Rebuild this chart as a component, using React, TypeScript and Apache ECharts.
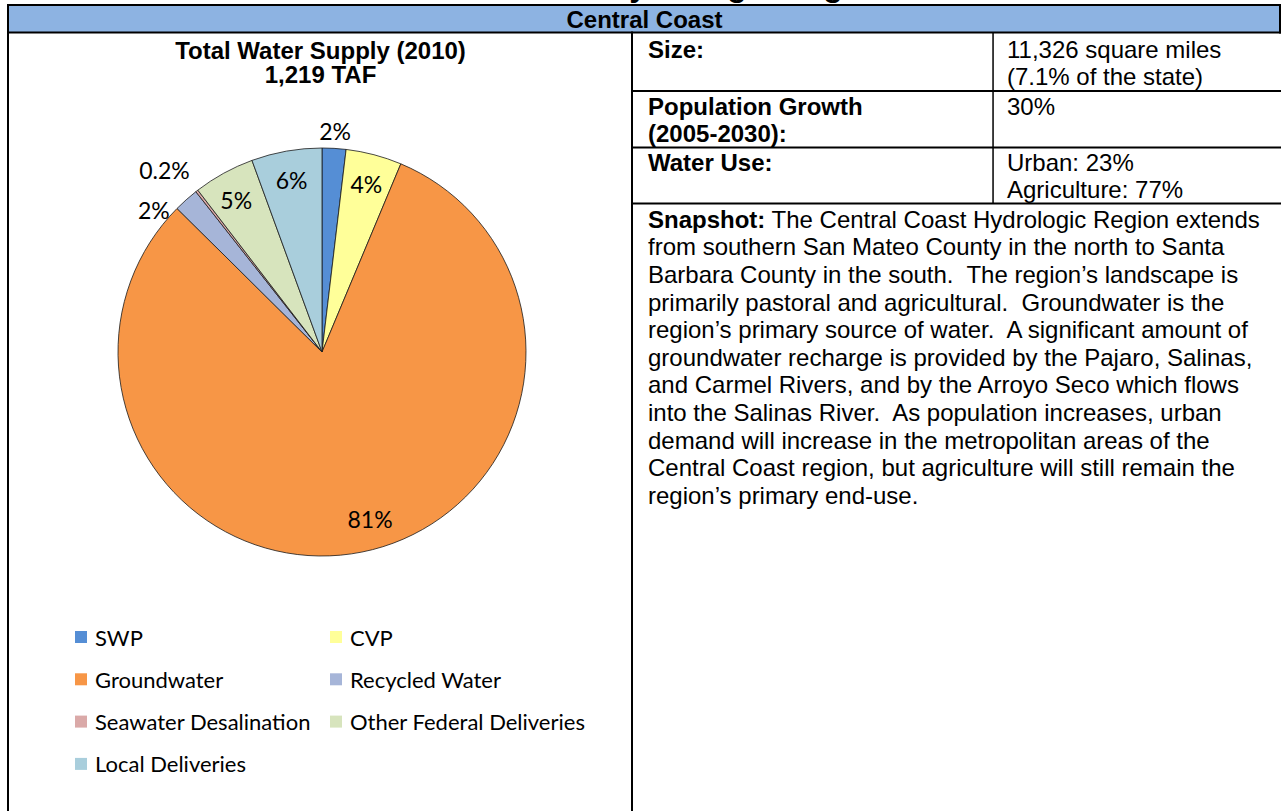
import React, { useEffect, useRef } from "react";
import * as echarts from "echarts";

const categories = [
  "SWP",
  "CVP",
  "Groundwater",
  "Recycled Water",
  "Seawater Desalination",
  "Other Federal Deliveries",
  "Local Deliveries",
];
const supplyTAF = [23, 54, 989, 24, 2.4, 59, 68];
const sliceColors = ["#558ED5", "#FFFF99", "#F79646", "#A6B5D8", "#DAA9A8", "#D7E4BD", "#A9CEDC"];
const labelOutside = [true, false, false, true, true, false, false];
const labelOffsets = [[0, 0], [0, 0], [14, -4], [-21, 23], [-22, -7], [-2, 0], [0, -1]];

const legendLeftColumn = ["SWP", "Groundwater", "Seawater Desalination", "Local Deliveries"];
const legendRightColumn = ["CVP", "Recycled Water", "Other Federal Deliveries"];

const pageTitle = "Central Coast Hydrologic Region";
const regionName = "Central Coast";
const chartTitle = ["Total Water Supply (2010)", "1,219 TAF"];
const tableLabels = ["Size:", "Population Growth\n(2005-2030):", "Water Use:"];
const tableValues = ["11,326 square miles\n(7.1% of the state)", "30%", "Urban: 23%\nAgriculture: 77%"];
const snapshotLines = [
  "{b|Snapshot:} The Central Coast Hydrologic Region extends",
  "from southern San Mateo County in the north to Santa",
  "Barbara County in the south.  The region\u2019s landscape is",
  "primarily pastoral and agricultural.  Groundwater is the",
  "region\u2019s primary source of water.  A significant amount of",
  "groundwater recharge is provided by the Pajaro, Salinas,",
  "and Carmel Rivers, and by the Arroyo Seco which flows",
  "into the Salinas River.  As population increases, urban",
  "demand will increase in the metropolitan areas of the",
  "Central Coast region, but agriculture will still remain the",
  "region\u2019s primary end-use.",
];

const AR = "'Liberation Sans', Arial, sans-serif";
const LABEL_FONT = "Lato, 'Noto Sans', sans-serif";

function fmtPct(p: any) {
  const v = p.percent;
  return v < 1 ? v.toFixed(1) + "%" : Math.round(v) + "%";
}

export default function App() {
  const ref = useRef<HTMLDivElement>(null);
  useEffect(() => {
    if (!ref.current) return;
    const chart = echarts.init(ref.current, undefined, { renderer: "svg" });

    const CENTER = [322, 352];
    const baseData = categories.map((name, i) => ({
      name,
      value: supplyTAF[i],
      itemStyle: { color: sliceColors[i] },
    }));
    const labelStyle = {
      color: "#000",
      fontFamily: LABEL_FONT,
      fontSize: 23,
      formatter: fmtPct,
    };
    const insideData = categories.map((name, i) => ({
      name,
      value: supplyTAF[i],
      label: { show: !labelOutside[i], position: "inside", offset: labelOffsets[i] },
    }));
    const outsideData = categories.map((name, i) => ({
      name,
      value: supplyTAF[i],
      label: { show: labelOutside[i], position: "inside", offset: labelOffsets[i] },
    }));

    const L = 27.6;
    const graphic: any[] = [];
    const rect = (x: number, y: number, w: number, h: number, fill = "#000") =>
      graphic.push({ type: "rect", shape: { x, y, width: w, height: h }, style: { fill }, silent: true });
    const text = (x: number, y: number, t: string, opts: any = {}) =>
      graphic.push({
        type: "text",
        x,
        y,
        silent: true,
        style: {
          text: t,
          fontFamily: AR,
          fontSize: 24,
          fill: "#000",
          align: "left",
          verticalAlign: "top",
          lineHeight: L,
          ...opts,
        },
      });

    // page title (cut at top, as in the source page)
    text(640, -15, pageTitle, { fontSize: 32, fontWeight: "bold", align: "center", verticalAlign: "middle", lineHeight: 36 });
    // header band
    rect(8, 5, 1273, 27, "#8DB3E2");
    rect(7, 4, 1274, 2);
    rect(7, 31.5, 1274, 2);
    rect(7, 4, 2, 807);
    rect(1279, 4, 2, 29.5);
    rect(631, 31.5, 2, 780);
    rect(631, 90, 650, 2);
    rect(631, 146.5, 650, 2);
    rect(631, 202.5, 650, 2);
    rect(992.3, 33, 1.5, 170);
    text(644.5, 19, regionName, { fontWeight: "bold", align: "center", verticalAlign: "middle", lineHeight: 26 });

    // left chart title
    text(320.5, 62, chartTitle.join("\n"), { fontWeight: "bold", align: "center", verticalAlign: "middle", lineHeight: 24 });

    // table
    const rowTops = [49.4, 106.4, 162.4];
    tableLabels.forEach((t, i) => text(648, rowTops[i] - L / 2, t, { fontWeight: "bold" }));
    tableValues.forEach((t, i) => text(1007, rowTops[i] - L / 2, t));
    graphic.push({
      type: "text",
      x: 648,
      y: 219.4 - L / 2,
      silent: true,
      style: {
        text: snapshotLines.join("\n"),
        fontFamily: AR,
        fontSize: 24,
        fill: "#000",
        align: "left",
        verticalAlign: "top",
        lineHeight: L,
        rich: {
          b: { fontFamily: AR, fontSize: 24, fontWeight: "bold", fill: "#000", lineHeight: L },
        },
      },
    });

    const legendCommon = {
      orient: "vertical",
      top: 625,
      padding: 0,
      itemWidth: 12,
      itemHeight: 12,
      itemGap: 18.3,
      icon: "rect",
      selectedMode: false,
      itemStyle: { borderWidth: 0 },
      textStyle: { fontFamily: LABEL_FONT, fontSize: 22, color: "#000", lineHeight: 24, padding: [0, 0, 0, 3] },
    };

    chart.setOption({
      animation: false,
      backgroundColor: "#fff",
      legend: [
        { ...legendCommon, left: 75, data: legendLeftColumn },
        { ...legendCommon, left: 330, data: legendRightColumn },
      ],
      series: [
        {
          type: "pie",
          center: CENTER,
          radius: [0, 204],
          startAngle: 90,
          clockwise: true,
          silent: true,
          avoidLabelOverlap: false,
          label: { show: false },
          labelLine: { show: false },
          itemStyle: { borderColor: "#1a1a1a", borderWidth: 0.8 },
          emphasis: { disabled: true },
          data: baseData,
        },
        {
          type: "pie",
          center: CENTER,
          radius: [138, 204],
          startAngle: 90,
          clockwise: true,
          silent: true,
          avoidLabelOverlap: false,
          itemStyle: { color: "rgba(0,0,0,0)", borderWidth: 0 },
          label: { ...labelStyle, position: "inside" },
          labelLine: { show: false },
          emphasis: { disabled: true },
          data: insideData,
        },
        {
          type: "pie",
          center: CENTER,
          radius: [204, 232],
          startAngle: 90,
          clockwise: true,
          silent: true,
          avoidLabelOverlap: false,
          itemStyle: { color: "rgba(0,0,0,0)", borderWidth: 0 },
          label: { ...labelStyle, position: "inside" },
          labelLine: { show: false },
          emphasis: { disabled: true },
          data: outsideData,
        },
      ],
      graphic,
    });
    return () => chart.dispose();
  }, []);
  return (
    <div
      ref={ref}
      style={{ position: "absolute", left: 0, top: 0, width: 1281, height: 811, background: "#fff" }}
    />
  );
}
